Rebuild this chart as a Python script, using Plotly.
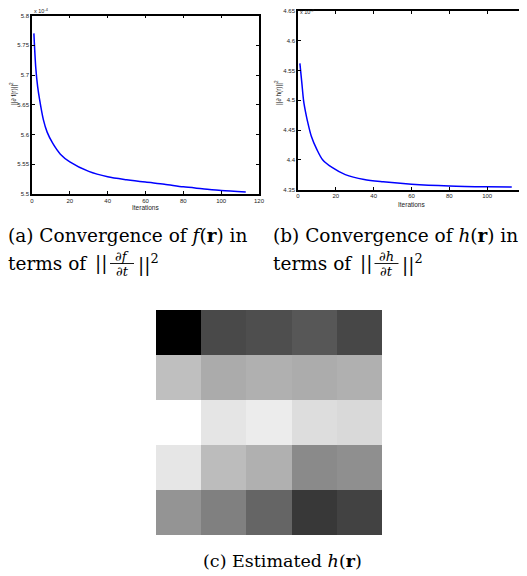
import plotly.graph_objects as go

# The page body has an 8px margin, so the figure itself is 519x568 and all
# reference pixel positions are shifted by 8.
OFF = 8
W, H = 527 - OFF, 576 - OFF

# ---- data ----
iters_f = [1, 2, 3, 4, 6, 8, 11, 15, 20, 30, 40, 50, 60, 70, 80, 90, 100, 113]
f_vals = [5.770, 5.712, 5.680, 5.659, 5.625, 5.604, 5.585, 5.567, 5.554, 5.538,
          5.529, 5.524, 5.520, 5.5165, 5.512, 5.509, 5.506, 5.5035]

iters_h = [1, 2, 3, 4, 5, 7, 10, 13, 18, 25, 35, 45, 60, 80, 100, 113]
h_vals = [4.562, 4.530, 4.498, 4.480, 4.465, 4.440, 4.417, 4.400, 4.387, 4.375,
          4.3668, 4.363, 4.359, 4.356, 4.3545, 4.354]

x_ticks = [0, 20, 40, 60, 80, 100, 120]
f_ticks = [5.5, 5.55, 5.6, 5.65, 5.7, 5.75, 5.8]
h_ticks = [4.35, 4.4, 4.45, 4.5, 4.55, 4.6, 4.65]

h_grid = [
    [0, 73, 78, 87, 71],
    [191, 171, 176, 172, 176],
    [255, 229, 236, 221, 217],
    [230, 188, 176, 138, 143],
    [148, 128, 101, 56, 66],
]


def px(x):
    return (x - OFF) / W


def py(y):
    return 1 - (y - OFF) / H


fig = go.Figure()

fig.add_trace(go.Scatter(x=iters_f, y=f_vals, mode="lines",
                         line=dict(color="#0000ff", width=1.5, shape="spline", smoothing=0.8),
                         xaxis="x", yaxis="y", showlegend=False))
fig.add_trace(go.Scatter(x=iters_h, y=h_vals, mode="lines",
                         line=dict(color="#0000ff", width=1.5, shape="spline", smoothing=0.8),
                         xaxis="x2", yaxis="y2", showlegend=False))
fig.add_trace(go.Heatmap(z=h_grid, x=[1, 2, 3, 4, 5], y=[1, 2, 3, 4, 5], zmin=0, zmax=255,
                         colorscale=[[0, "#000000"], [1, "#ffffff"]], showscale=False,
                         xaxis="x3", yaxis="y3", hoverinfo="skip"))

sans = "Liberation Sans, Arial, sans-serif"
tickfont = dict(family=sans, size=6, color="#222")
titlefont = dict(family=sans, size=6.5, color="#222")
ax_common = dict(showline=True, linecolor="black", linewidth=1.5, mirror="allticks", ticks="inside",
                 ticklen=3, tickcolor="black", showgrid=False, zeroline=False, tickfont=tickfont,
                 automargin=False)

fig.update_layout(
    width=W, height=H, margin=dict(l=0, r=0, t=0, b=0, autoexpand=False),
    paper_bgcolor="white", plot_bgcolor="white",
    xaxis=dict(domain=[px(32), px(259)], range=[0, 120], tickvals=x_ticks, anchor="y", **ax_common),
    yaxis=dict(domain=[py(194), py(15.5)], range=[5.5, 5.8], tickvals=f_ticks,
               ticktext=[str(v) for v in f_ticks], anchor="x", **ax_common),
    xaxis2=dict(domain=[px(298), px(525)], range=[0, 120], tickvals=x_ticks, anchor="y2", **ax_common),
    yaxis2=dict(domain=[py(189.5), py(11)], range=[4.35, 4.65], tickvals=h_ticks,
                ticktext=[str(v) for v in h_ticks], anchor="x2", **ax_common),
    xaxis3=dict(domain=[px(156), px(382)], range=[0.5, 5.5], visible=False, anchor="y3"),
    yaxis3=dict(domain=[py(535), py(310)], range=[5.5, 0.5], visible=False, anchor="x3"),
)

serif = "DejaVu Serif, Liberation Serif, serif"
cap = dict(family=serif, size=18.5, color="black")
cap_c = dict(family=serif, size=17.5, color="black")
small = dict(family=serif, size=13, color="black")
expfont = dict(family=sans, size=5.5, color="#222")


def note(text, x, y, font, xanchor="left", yanchor="middle", angle=0):
    return dict(text=text, x=px(x), y=py(y), xref="paper", yref="paper", showarrow=False,
                xanchor=xanchor, yanchor=yanchor, font=font, borderpad=0, textangle=angle)


ann = [
    note("x 10<sup>-4</sup>", 33, 10.5, expfont),
    note("x 10<sup>-7</sup>", 299, 8, expfont, yanchor="top"),
    note("Iterations", 145.5, 207.5, titlefont, "center"),
    note("Iterations", 411.5, 204, titlefont, "center"),
    note("||∂ f(r)||<sup>2</sup>", 13, 94, titlefont, "center", angle=-90),
    note("||∂ h(r)||<sup>2</sup>", 279, 93, titlefont, "center", angle=-90),
    note("(a) Convergence of <i>f</i>(<b>r</b>) in", 7, 235, cap),
    note("(b) Convergence of <i>h</i>(<b>r</b>) in", 272, 235, cap),
    note("(c) Estimated <i>h</i>(<b>r</b>)", 282, 561, cap_c, "center"),
]
shapes = []
# (terms-of x, bars x, fraction centre x, closing bars x, numerator)
for tx, bx, fx, cx, num in [(7, 94, 122, 137, "∂<i>f</i>"), (272, 359, 386.5, 401, "∂<i>h</i>")]:
    ann.append(note("terms of", tx, 263, cap))
    ann.append(note("||", bx, 263, cap))
    ann.append(note(num, fx, 256.5, small, "center"))
    ann.append(note("∂<i>t</i>", fx, 271, small, "center"))
    ann.append(note("||<sup>2</sup>", cx, 263, cap))
    shapes.append(dict(type="line", xref="paper", yref="paper", x0=px(fx - 12), x1=px(fx + 12),
                       y0=py(263.5), y1=py(263.5), line=dict(color="black", width=0.9)))

fig.update_layout(annotations=ann, shapes=shapes)

fig.write_html("out.html")
